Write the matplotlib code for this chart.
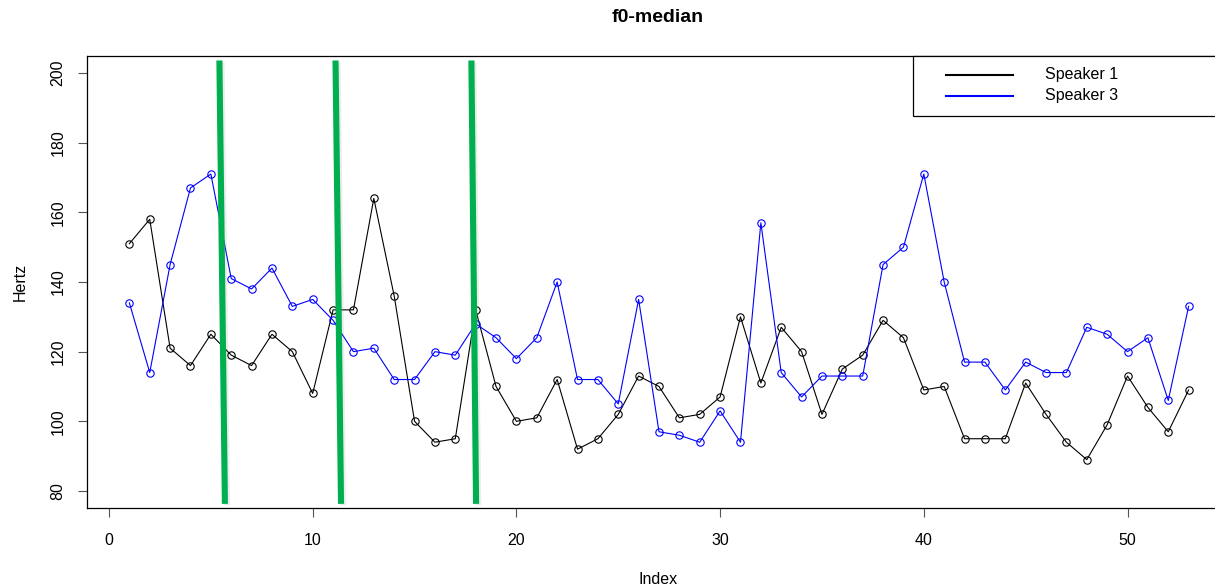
import matplotlib
matplotlib.use("Agg")
import matplotlib.pyplot as plt
import matplotlib.patheffects as pe
from matplotlib.patches import Rectangle
from matplotlib.lines import Line2D

plt.rcParams['font.family'] = ['Liberation Sans', 'DejaVu Sans']

# f0 medians per segment (Hz)
index = list(range(1, 54))
speaker1 = [151, 158, 121, 116, 125, 119, 116, 125, 120, 108,
            132, 132, 164, 136, 100, 94, 95, 132, 110, 100,
            101, 112, 92, 95, 102, 113, 110, 101, 102, 107,
            130, 111, 127, 120, 102, 115, 119, 129, 124, 109,
            110, 95, 95, 95, 111, 102, 94, 89, 99, 113,
            104, 97, 109]
speaker3 = [134, 114, 145, 167, 171, 141, 138, 144, 133, 135,
            129, 120, 121, 112, 112, 120, 119, 128, 124, 118,
            124, 140, 112, 112, 105, 135, 97, 96, 94, 103,
            94, 157, 114, 107, 113, 113, 113, 145, 150, 171,
            140, 117, 117, 109, 117, 114, 114, 127, 125, 120,
            124, 106, 133]
series_names = ["Speaker 1", "Speaker 3"]

# segment boundaries marked by hand (slightly slanted strokes)
boundary_top = [5.42, 11.12, 17.79]
boundary_bottom = [5.69, 11.39, 18.02]
boundary_ylim = (203.6, 76.3)

W, H = 1215, 586
fig = plt.figure(figsize=(W / 100, H / 100), dpi=100)


def fx(px):
    return px / W


def fy(py):
    return 1 - py / H


ax = fig.add_axes([fx(87), fy(507.7), fx(1231) - fx(87), fy(56.3) - fy(507.7)])

mk = dict(marker='o', markersize=5.3, markerfacecolor='none', markeredgewidth=0.8, linewidth=0.8)
ax.plot(index, speaker1, color='black', **mk)
ax.plot(index, speaker3, color='blue', **mk)

for xt, xb in zip(boundary_top, boundary_bottom):
    ax.plot([xt, xb], boundary_ylim, color='#00b050', linewidth=4.4, solid_capstyle='butt',
            path_effects=[pe.SimpleLineShadow(offset=(1.5, -1), alpha=0.15, shadow_color='gray'), pe.Normal()])

ax.set_xlim(-1.08, 55.08)
ax.set_ylim(75.2, 204.8)
ax.set_xticks(range(0, 51, 10))
ax.set_yticks(range(80, 201, 20))
ax.tick_params(axis='both', direction='out', length=6.5, width=0.8, color='#555555', labelsize=11.5)
ax.tick_params(axis='x', pad=11.5)
ax.tick_params(axis='y', pad=9, labelrotation=90)
for lab in ax.get_yticklabels():
    lab.set_va('center')
for s in ax.spines.values():
    s.set_linewidth(0.9)
    s.set_color('black')

fig.text(fx(658), fy(17), "f0-median", ha='center', va='center', fontsize=14, fontweight='bold')
fig.text(fx(658), fy(579), "Index", ha='center', va='center', fontsize=11.5)
fig.text(fx(20), fy(282), "Hertz", ha='center', va='center', rotation=90, fontsize=11.5)

# legend box in the top right corner
fig.add_artist(Rectangle((fx(913), fy(116)), fx(1231) - fx(913), fy(56.3) - fy(116),
                         transform=fig.transFigure, facecolor='white', edgecolor='black', linewidth=0.9))
for name, col, ly in zip(series_names, ['black', 'blue'], [75, 95.7]):
    fig.add_artist(Line2D([fx(946), fx(1013)], [fy(ly), fy(ly)], transform=fig.transFigure,
                          color=col, linewidth=1.5))
    fig.text(fx(1045), fy(ly), name, ha='left', va='center', fontsize=11.5)

fig.savefig("out.png", dpi=100)
